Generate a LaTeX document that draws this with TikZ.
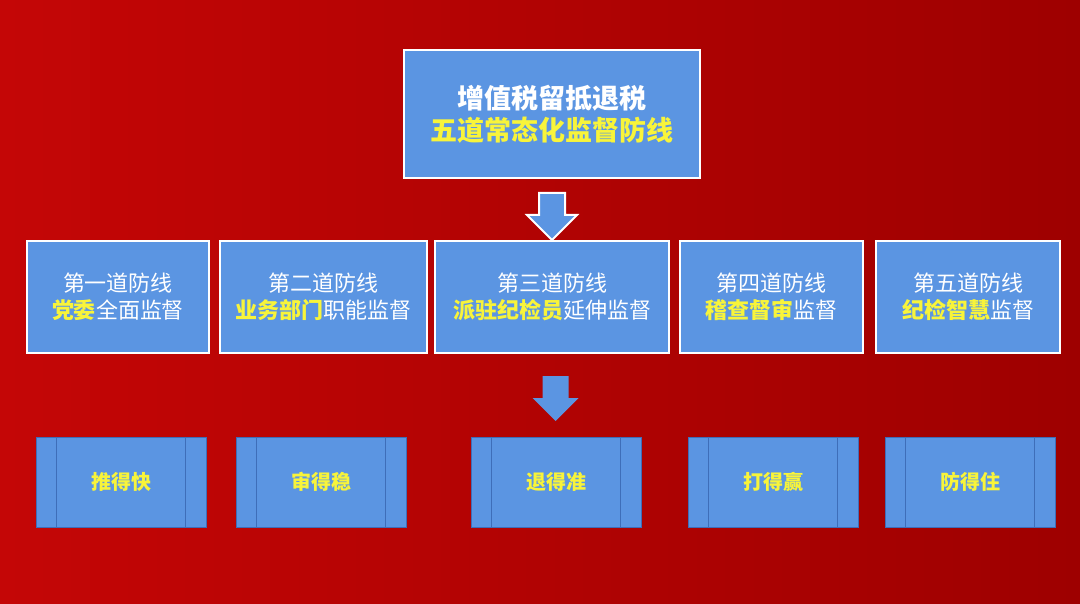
\documentclass[tikz,border=0pt]{standalone}
\usepackage{fontspec}
\setmainfont{Noto Sans CJK SC}
\usetikzlibrary{calc}
\definecolor{bgL}{RGB}{196,6,6}
\definecolor{bgR}{RGB}{158,0,0}
\definecolor{boxblue}{RGB}{91,149,226}
\definecolor{edgeblue}{RGB}{62,110,185}
\definecolor{ylw}{RGB}{248,244,58}
\tikzset{
  topbox/.style={draw=white, line width=2.5pt, fill=boxblue, minimum width=296pt, minimum height=128pt, inner sep=0pt, align=center, text=white, font=\fontsize{27}{34}\selectfont\bfseries},
  midbox/.style={draw=white, line width=2pt, fill=boxblue, minimum height=112pt, inner sep=0pt, align=center, text=white, font=\fontsize{22}{27}\selectfont},
  botbox/.style={draw=edgeblue, line width=0.8pt, fill=boxblue, minimum width=170pt, minimum height=90pt, inner sep=0pt, text=ylw, font=\fontsize{20}{24}\selectfont\bfseries},
  innerline/.style={draw=edgeblue, line width=0.8pt},
  blockarrow/.style={fill=boxblue},
  hl/.style={}
}
\newcommand{\hy}[1]{\textcolor{ylw}{\bfseries #1}}
\begin{document}
\begin{tikzpicture}[x=1pt,y=-1pt]
\shade[left color=bgL, right color=bgR] (0,0) rectangle (1080,604);
\useasboundingbox (0,0) rectangle (1080,604);
% top box
\node[topbox] (top) at (552,114) {增值税留抵退税\\[-2pt]\textcolor{ylw}{五道常态化监督防线}};
% arrow 1
\coordinate (a1) at (552,193);
\filldraw[blockarrow, draw=white, line width=2pt, line join=miter]
  ($(a1)+(-13,0)$) -- ($(a1)+(13,0)$) -- ($(a1)+(13,22)$) -- ($(a1)+(25,22)$) -- ($(a1)+(0,47)$) -- ($(a1)+(-25,22)$) -- ($(a1)+(-13,22)$) -- cycle;
% middle row
\node[midbox, minimum width=182pt] (m1) at (118,297) {第一道防线\\\hy{党委}全面监督};
\node[midbox, minimum width=207pt] (m2) at (323.5,297) {第二道防线\\\hy{业务部门}职能监督};
\node[midbox, minimum width=234pt] (m3) at (552,297) {第三道防线\\\hy{派驻纪检员}延伸监督};
\node[midbox, minimum width=183pt] (m4) at (771.5,297) {第四道防线\\\hy{稽查督审}监督};
\node[midbox, minimum width=184pt] (m5) at (968,297) {第五道防线\\\hy{纪检智慧}监督};
% arrow 2
\coordinate (a2) at (555.5,376);
\fill[blockarrow]
  ($(a2)+(-13,0)$) -- ($(a2)+(13,0)$) -- ($(a2)+(13,22)$) -- ($(a2)+(23,22)$) -- ($(a2)+(0,45)$) -- ($(a2)+(-23,22)$) -- ($(a2)+(-13,22)$) -- cycle;
% bottom row
\foreach \n/\x/\t in {b1/121/推得快, b2/321/审得稳, b3/556/退得准, b4/773/打得赢, b5/970/防得住}{
  \node[botbox] (\n) at (\x,482) {\t};
  \draw[innerline] ([xshift=21pt]\n.north west) -- ([xshift=21pt]\n.south west);
  \draw[innerline] ([xshift=-21pt]\n.north east) -- ([xshift=-21pt]\n.south east);
}
\end{tikzpicture}
\end{document}
